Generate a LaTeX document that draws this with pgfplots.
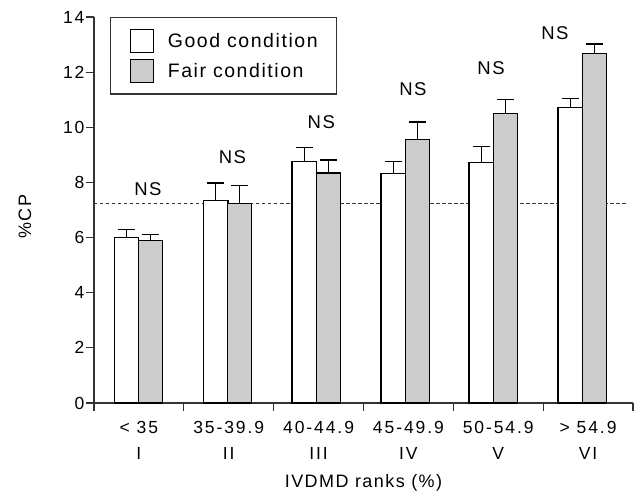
\documentclass[border=0pt]{standalone}
\usepackage{pgfplots}
\pgfplotsset{compat=1.18}
\usepackage{fontspec}
\setmainfont{Liberation Sans}[LetterSpace=8]
\newfontfamily\tickfont{Liberation Sans}[LetterSpace=11]
\definecolor{barg}{HTML}{CCCCCC}
\definecolor{axc}{HTML}{333333}
\begin{document}
\begin{tikzpicture}
\useasboundingbox (-94pt,-92pt) rectangle (544pt,403pt);
\begin{axis}[
  at={(0,0)}, anchor=south west,
  scale only axis, width=539pt, height=386pt,
  xmin=0, xmax=6, ymin=0, ymax=14,
  axis lines=left, axis line style={-, line width=1.5pt, draw=axc},
  clip=false,
  tick align=outside,
  major tick length=8pt, minor tick length=8pt,
  every tick/.style={line width=1.2pt, draw=axc},
  xtick={0.5,1.5,2.5,3.5,4.5,5.5},
  major x tick style={draw=none},
  minor xtick={0,1,2,3,4,5,6},
  xticklabels={{< 35\\I},{35-39.9\\II},{40-44.9\\III},{45-49.9\\IV},{50-54.9\\V},{> 54.9\\VI}},
  xticklabel style={font=\tickfont\fontsize{17.5}{25.5}\selectfont, align=center, anchor=north, yshift=-7pt},
  ytick={0,2,4,6,8,10,12,14},
  yticklabels={0,2,4,6,8,10,12,14},
  yticklabel style={font=\tickfont\fontsize{17.5}{20}\selectfont, anchor=east, xshift=2pt},
  xlabel={IVDMD ranks (\%)},
  ylabel={\%CP},
  every axis x label/.style={at={(axis description cs:0.5,-0.208)}, anchor=center, font=\fontsize{18}{20}\selectfont},
  every axis y label/.style={at={(axis description cs:-0.128,0.483)}, anchor=center, rotate=90, font=\fontsize{18}{20}\selectfont},
  legend style={at={(axis description cs:0,1)}, anchor=north west, xshift=16pt,
    draw=axc, line width=1.2pt, inner xsep=19pt, inner ysep=11pt,
    font=\fontsize{19.5}{22}\selectfont, row sep=6pt, column sep=14pt,
    nodes={inner sep=0pt, anchor=west}},
  legend cell align=left,
  legend image code/.code={\draw[#1, line width=1.2pt] (0pt,-11.5pt) rectangle (23pt,11.5pt);},
]
\addplot[line width=0.9pt, draw=axc, forget plot, dash pattern=on 3.5pt off 2.5pt] coordinates {(0,7.23) (5.94,7.23)};
\addplot[ybar, bar width=0.27, bar shift=0pt, fill=white, draw=black, line width=1.2pt,
  error bars/.cd, y dir=plus, y explicit, error mark=|, error bar style={line width=1.2pt, black},
  error mark options={line width=1.2pt, mark size=8.5pt, black}]
  coordinates {
  (0.36,6.00) +- (0,0.30)
  (1.356,7.34) +- (0,0.64)
  (2.34,8.75) +- (0,0.51)
  (3.33,8.31) +- (0,0.44)
  (4.31,8.72) +- (0,0.58)
  (5.30,10.71) +- (0,0.33)
  };
\addlegendentry{Good condition}
\addplot[ybar, bar width=0.27, bar shift=0pt, fill=barg, draw=black, line width=1.2pt,
  error bars/.cd, y dir=plus, y explicit, error mark=|, error bar style={line width=1.2pt, black},
  error mark options={line width=1.2pt, mark size=8.5pt, black}]
  coordinates {
  (0.63,5.89) +- (0,0.23)
  (1.622,7.25) +- (0,0.65)
  (2.61,8.34) +- (0,0.47)
  (3.60,9.56) +- (0,0.63)
  (4.58,10.49) +- (0,0.52)
  (5.57,12.69) +- (0,0.33)
  };
\addlegendentry{Fair condition}
\node[font=\fontsize{18.5}{20}\selectfont] at (axis cs:0.60,7.77) {NS};
\node[font=\fontsize{18.5}{20}\selectfont] at (axis cs:1.54,8.93) {NS};
\node[font=\fontsize{18.5}{20}\selectfont] at (axis cs:2.53,10.17) {NS};
\node[font=\fontsize{18.5}{20}\selectfont] at (axis cs:3.55,11.38) {NS};
\node[font=\fontsize{18.5}{20}\selectfont] at (axis cs:4.42,12.14) {NS};
\node[font=\fontsize{18.5}{20}\selectfont] at (axis cs:5.13,13.41) {NS};
\end{axis}
\end{tikzpicture}
\end{document}
